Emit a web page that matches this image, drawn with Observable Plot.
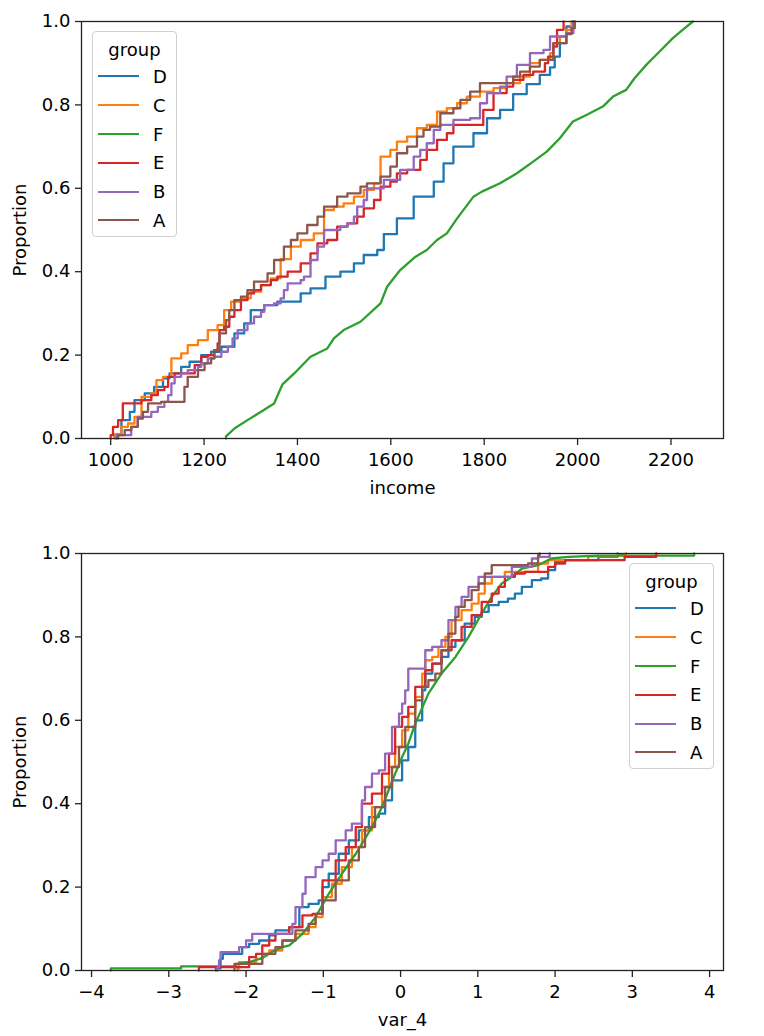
<!DOCTYPE html>
<html>
<head>
<meta charset="utf-8">
<script src="https://cdn.jsdelivr.net/npm/d3@7"></script>
<script src="https://cdn.jsdelivr.net/npm/@observablehq/plot@0.6"></script>
<style>
  html, body { margin: 0; padding: 0; background: #fff; }
  #root { position: relative; width: 764px; height: 1036px; font-family: "DejaVu Sans", sans-serif; }
  #root svg { display: block; }
  .legend { position: absolute; box-sizing: border-box; border: 1px solid #d0d0d0; border-radius: 4px; background: rgba(255,255,255,0.8); font-size: 18px; line-height: 21px; color: #000; }
  .legend .title { position: absolute; left: 0; right: 0; text-align: center; }
  .legend .sw { position: absolute; height: 0; border-top: 2.5px solid; }
  .legend .lab { position: absolute; }
</style>
</head>
<body>
<div id="root"></div>
<script>
// ---- categories / colours ----
const groups = ["D", "C", "F", "E", "B", "A"];
const groupColors = ["#1f77b4", "#ff7f0e", "#2ca02c", "#d62728", "#9467bd", "#8c564b"];

// ---- tick labels ----
const incomeTicks = [1000, 1200, 1400, 1600, 1800, 2000, 2200];
const var4Ticks = [-4, -3, -2, -1, 0, 1, 2, 3, 4];
const proportionTicks = [0, 0.2, 0.4, 0.6, 0.8, 1.0];

// ---- ECDF knots: [value, proportion] ----
const incomeD = [[1012,0],[1012,0.01],[1023,0.044],[1041,0.064],[1051,0.092],[1073,0.108],[1093,0.124],[1112,0.144],[1126,0.156],[1151,0.172],[1169,0.184],[1194,0.2],[1215,0.208],[1237,0.22],[1265,0.252],[1286,0.276],[1300,0.308],[1329,0.32],[1357,0.328],[1407,0.348],[1428,0.36],[1460,0.388],[1492,0.4],[1521,0.42],[1542,0.44],[1571,0.452],[1585,0.49],[1613,0.528],[1649,0.58],[1692,0.616],[1713,0.66],[1734,0.7],[1777,0.732],[1806,0.768],[1834,0.788],[1862,0.826],[1891,0.85],[1919,0.872],[1941,0.89],[1951,0.916],[1962,0.948],[1976,0.988],[1990,1]];
const incomeC = [[1008,0],[1008,0.01],[1023,0.028],[1037,0.036],[1051,0.052],[1066,0.1],[1087,0.108],[1098,0.14],[1112,0.148],[1130,0.192],[1151,0.204],[1165,0.224],[1187,0.236],[1208,0.26],[1229,0.272],[1243,0.308],[1258,0.328],[1279,0.336],[1300,0.352],[1322,0.368],[1343,0.384],[1364,0.43],[1386,0.46],[1407,0.476],[1435,0.492],[1457,0.548],[1478,0.556],[1499,0.564],[1521,0.58],[1542,0.596],[1564,0.612],[1578,0.676],[1599,0.692],[1613,0.712],[1635,0.724],[1656,0.744],[1677,0.752],[1699,0.784],[1720,0.792],[1742,0.804],[1763,0.82],[1791,0.832],[1820,0.84],[1848,0.852],[1877,0.868],[1898,0.9],[1919,0.908],[1941,0.924],[1948,0.948],[1962,0.964],[1976,0.98],[1987,1]];
const incomeF = [[1247,0],[1247,0.005],[1265,0.024],[1293,0.044],[1322,0.064],[1350,0.084],[1368,0.13],[1393,0.156],[1428,0.196],[1464,0.216],[1478,0.24],[1499,0.26],[1535,0.28],[1578,0.324],[1592,0.364],[1620,0.404],[1653,0.436],[1677,0.452],[1699,0.476],[1720,0.492],[1742,0.528],[1777,0.58],[1795,0.592],[1834,0.612],[1870,0.636],[1905,0.664],[1934,0.688],[1962,0.72],[1990,0.76],[2019,0.776],[2054,0.796],[2076,0.82],[2104,0.836],[2122,0.864],[2147,0.896],[2172,0.924],[2204,0.96],[2225,0.98],[2247,1]];
const incomeE = [[1000,0],[1000,0.008],[1005,0.028],[1016,0.044],[1026,0.084],[1066,0.092],[1087,0.104],[1101,0.116],[1115,0.124],[1123,0.148],[1137,0.156],[1180,0.176],[1194,0.196],[1208,0.2],[1222,0.212],[1229,0.228],[1233,0.26],[1243,0.268],[1254,0.292],[1265,0.308],[1279,0.332],[1293,0.348],[1307,0.356],[1322,0.368],[1343,0.38],[1357,0.388],[1379,0.4],[1407,0.42],[1428,0.444],[1443,0.468],[1464,0.476],[1485,0.508],[1507,0.516],[1528,0.532],[1542,0.552],[1564,0.572],[1578,0.604],[1599,0.616],[1613,0.636],[1635,0.644],[1663,0.668],[1677,0.692],[1699,0.716],[1720,0.732],[1734,0.752],[1798,0.788],[1820,0.828],[1848,0.844],[1862,0.86],[1884,0.872],[1905,0.88],[1930,0.9],[1937,0.916],[1948,0.94],[1956,0.98],[1970,1]];
const incomeB = [[1013,0],[1013,0.008],[1044,0.028],[1058,0.052],[1087,0.064],[1101,0.076],[1115,0.088],[1123,0.104],[1130,0.132],[1137,0.148],[1151,0.156],[1165,0.164],[1187,0.172],[1194,0.18],[1208,0.192],[1222,0.196],[1237,0.208],[1251,0.22],[1261,0.24],[1272,0.26],[1293,0.276],[1307,0.292],[1322,0.304],[1329,0.32],[1350,0.324],[1364,0.336],[1371,0.356],[1379,0.372],[1407,0.38],[1414,0.388],[1428,0.428],[1443,0.46],[1457,0.5],[1492,0.508],[1507,0.516],[1521,0.532],[1528,0.556],[1542,0.572],[1549,0.6],[1585,0.62],[1620,0.644],[1649,0.676],[1663,0.692],[1677,0.708],[1692,0.74],[1706,0.752],[1734,0.764],[1770,0.768],[1791,0.804],[1806,0.828],[1834,0.844],[1848,0.868],[1870,0.896],[1898,0.924],[1927,0.932],[1941,0.964],[1976,0.972],[1991,1]];
const incomeA = [[1016,0],[1016,0.008],[1030,0.02],[1044,0.028],[1058,0.048],[1069,0.064],[1080,0.084],[1108,0.088],[1158,0.124],[1165,0.148],[1187,0.164],[1201,0.18],[1215,0.192],[1222,0.212],[1233,0.252],[1247,0.284],[1254,0.308],[1265,0.332],[1279,0.34],[1293,0.356],[1307,0.376],[1336,0.396],[1350,0.428],[1371,0.46],[1386,0.476],[1400,0.492],[1421,0.512],[1443,0.532],[1457,0.556],[1485,0.58],[1507,0.588],[1535,0.604],[1549,0.612],[1578,0.628],[1599,0.652],[1613,0.684],[1635,0.7],[1656,0.724],[1670,0.74],[1684,0.748],[1706,0.78],[1734,0.792],[1749,0.812],[1770,0.832],[1791,0.852],[1862,0.868],[1877,0.88],[1898,0.892],[1919,0.908],[1948,0.948],[1976,0.97],[1987,0.984],[1994,1]];

const var4D = [[-2.39,0],[-2.39,0.005],[-2.33,0.028],[-2.30,0.04],[-2.05,0.056],[-1.96,0.064],[-1.83,0.072],[-1.70,0.084],[-1.62,0.096],[-1.44,0.104],[-1.31,0.152],[-1.19,0.16],[-1.06,0.168],[-1.01,0.2],[-0.93,0.232],[-0.80,0.28],[-0.67,0.312],[-0.54,0.336],[-0.41,0.368],[-0.28,0.376],[-0.20,0.408],[-0.11,0.456],[0.02,0.504],[0.10,0.536],[0.19,0.6],[0.28,0.672],[0.32,0.712],[0.41,0.736],[0.53,0.752],[0.62,0.776],[0.71,0.792],[0.83,0.832],[0.96,0.848],[1.05,0.86],[1.14,0.876],[1.27,0.884],[1.39,0.892],[1.48,0.904],[1.57,0.92],[1.70,0.936],[1.82,0.94],[1.91,0.96],[2.00,0.98],[2.13,0.984],[2.56,0.992],[2.81,1]];
const var4C = [[-2.11,0],[-2.11,0.005],[-2.09,0.02],[-1.87,0.028],[-1.79,0.04],[-1.70,0.048],[-1.53,0.072],[-1.36,0.088],[-1.19,0.104],[-1.10,0.128],[-1.01,0.176],[-0.89,0.208],[-0.76,0.248],[-0.63,0.296],[-0.50,0.336],[-0.37,0.392],[-0.24,0.44],[-0.15,0.488],[-0.07,0.536],[0.02,0.576],[0.10,0.616],[0.19,0.656],[0.28,0.712],[0.32,0.744],[0.41,0.752],[0.49,0.776],[0.58,0.8],[0.66,0.84],[0.79,0.864],[0.92,0.88],[1.01,0.904],[1.09,0.928],[1.18,0.944],[1.35,0.956],[1.78,0.976],[1.91,0.984],[2.43,0.993],[2.81,0.996],[2.92,1]];
const var4F = [[-3.75,0],[-3.75,0.005],[-2.84,0.005],[-2.84,0.01],[-2.13,0.01],[-2.13,0.015],[-1.96,0.02],[-1.79,0.03],[-1.66,0.045],[-1.53,0.056],[-1.44,0.06],[-1.27,0.088],[-1.10,0.128],[-0.93,0.184],[-0.76,0.232],[-0.58,0.28],[-0.37,0.344],[-0.24,0.392],[-0.07,0.472],[0.02,0.512],[0.10,0.544],[0.19,0.592],[0.36,0.664],[0.53,0.712],[0.71,0.752],[0.88,0.8],[1.05,0.856],[1.18,0.896],[1.31,0.928],[1.44,0.944],[1.57,0.964],[1.78,0.972],[1.95,0.988],[2.17,0.992],[2.56,0.995],[3.80,0.995],[3.80,1]];
const var4E = [[-2.61,0],[-2.61,0.008],[-1.96,0.032],[-1.87,0.04],[-1.79,0.06],[-1.70,0.072],[-1.62,0.088],[-1.44,0.104],[-1.27,0.132],[-1.14,0.136],[-1.01,0.216],[-0.84,0.264],[-0.71,0.296],[-0.58,0.344],[-0.50,0.4],[-0.37,0.424],[-0.24,0.472],[-0.15,0.52],[-0.07,0.584],[0.02,0.608],[0.10,0.632],[0.19,0.68],[0.32,0.72],[0.41,0.736],[0.53,0.768],[0.66,0.792],[0.79,0.824],[0.92,0.852],[1.05,0.884],[1.18,0.904],[1.27,0.92],[1.35,0.944],[1.48,0.952],[1.61,0.956],[1.91,0.968],[2.00,0.976],[2.13,0.984],[2.90,0.992],[3.31,1]];
const var4B = [[-2.37,0],[-2.37,0.008],[-2.35,0.024],[-2.33,0.044],[-2.09,0.056],[-2.00,0.072],[-1.92,0.088],[-1.40,0.112],[-1.36,0.152],[-1.27,0.184],[-1.23,0.224],[-1.10,0.248],[-1.01,0.264],[-0.93,0.28],[-0.84,0.312],[-0.71,0.336],[-0.63,0.352],[-0.50,0.408],[-0.46,0.44],[-0.37,0.472],[-0.28,0.48],[-0.20,0.52],[-0.11,0.584],[-0.02,0.616],[0.02,0.64],[0.06,0.672],[0.10,0.724],[0.32,0.768],[0.41,0.776],[0.53,0.792],[0.62,0.84],[0.71,0.872],[0.79,0.896],[0.88,0.92],[1.01,0.944],[1.44,0.968],[1.70,0.988],[1.78,0.992],[1.93,1]];
const var4A = [[-2.15,0],[-2.15,0.016],[-1.79,0.04],[-1.62,0.056],[-1.53,0.072],[-1.36,0.096],[-1.19,0.112],[-1.10,0.136],[-1.01,0.168],[-0.84,0.216],[-0.67,0.264],[-0.54,0.296],[-0.46,0.344],[-0.33,0.392],[-0.20,0.44],[-0.11,0.488],[-0.02,0.536],[0.06,0.584],[0.19,0.648],[0.28,0.68],[0.36,0.696],[0.45,0.712],[0.53,0.768],[0.62,0.808],[0.71,0.848],[0.75,0.872],[0.83,0.888],[0.92,0.912],[1.01,0.928],[1.09,0.952],[1.18,0.972],[1.65,0.976],[1.78,0.996],[1.80,1]];

// ---- build tables ----
function toRows(series) {
  const rows = [];
  groups.forEach((g, i) => series[i].forEach(([x, p]) => rows.push({group: g, x, p})));
  return rows;
}
const incomeRows = toRows([incomeD, incomeC, incomeF, incomeE, incomeB, incomeA]);
const var4Rows = toRows([var4D, var4C, var4F, var4E, var4B, var4A]);

function ecdfChart({rows, xDomain, xTicks, xLabel, marginTop, marginBottom, height}) {
  const lineMarks = groups.map(g => Plot.line(rows.filter(r => r.group === g), {
    x: "x", y: "p", stroke: "group", strokeWidth: 2.3,
    curve: g === "F" ? "linear" : "step-after"
  }));
  return Plot.plot({
    width: 764, height,
    marginLeft: 81, marginRight: 41, marginTop, marginBottom,
    style: {fontFamily: "DejaVu Sans, sans-serif", fontSize: "18px", color: "#000", background: "transparent", overflow: "visible"},
    x: {domain: xDomain},
    y: {domain: [0, 1]},
    color: {domain: groups, range: groupColors},
    marks: [
      ...lineMarks,
      Plot.frame({stroke: "#222", strokeWidth: 1.3}),
      Plot.axisX({ticks: xTicks, tickSize: 7, tickPadding: 8, tickFormat: d => d < 0 ? "\u2212" + Math.abs(d) : String(d),
        label: xLabel, labelAnchor: "center", labelOffset: 55, labelArrow: "none", fontSize: 18, strokeWidth: 1.3, stroke: "#222"}),
      Plot.axisY({ticks: proportionTicks, tickSize: 6, tickPadding: 5, tickFormat: d3.format(".1f"),
        label: "Proportion", labelAnchor: "center", labelOffset: 68, labelArrow: "none", fontSize: 18, strokeWidth: 1.3, stroke: "#222"})
    ]
  });
}

const root = document.getElementById("root");
const topChart = ecdfChart({rows: incomeRows, xDomain: [937.5, 2312.5], xTicks: incomeTicks, xLabel: "income", height: 518, marginTop: 21, marginBottom: 80});
const bottomChart = ecdfChart({rows: var4Rows, xDomain: [-4.13, 4.18], xTicks: var4Ticks, xLabel: "var_4", height: 518, marginTop: 35, marginBottom: 66});
root.appendChild(topChart);
root.appendChild(bottomChart);

function legend(left, topPx) {
  const box = document.createElement("div");
  box.className = "legend";
  Object.assign(box.style, {left: left + "px", top: topPx + "px", width: "85px", height: "206px"});
  const t = document.createElement("div");
  t.className = "title"; t.textContent = "group"; t.style.top = "7px";
  box.appendChild(t);
  groups.forEach((g, i) => {
    const y = 44.5 + i * 28.8;
    const sw = document.createElement("div");
    sw.className = "sw";
    Object.assign(sw.style, {left: "5px", width: "41px", top: (y - 1.2) + "px", borderColor: groupColors[i]});
    const lab = document.createElement("div");
    lab.className = "lab"; lab.textContent = g;
    Object.assign(lab.style, {left: "60px", top: (y - 10.5) + "px"});
    box.appendChild(sw); box.appendChild(lab);
  });
  root.appendChild(box);
}
legend(92, 31);
legend(629, 563);
</script>
</body>
</html>
